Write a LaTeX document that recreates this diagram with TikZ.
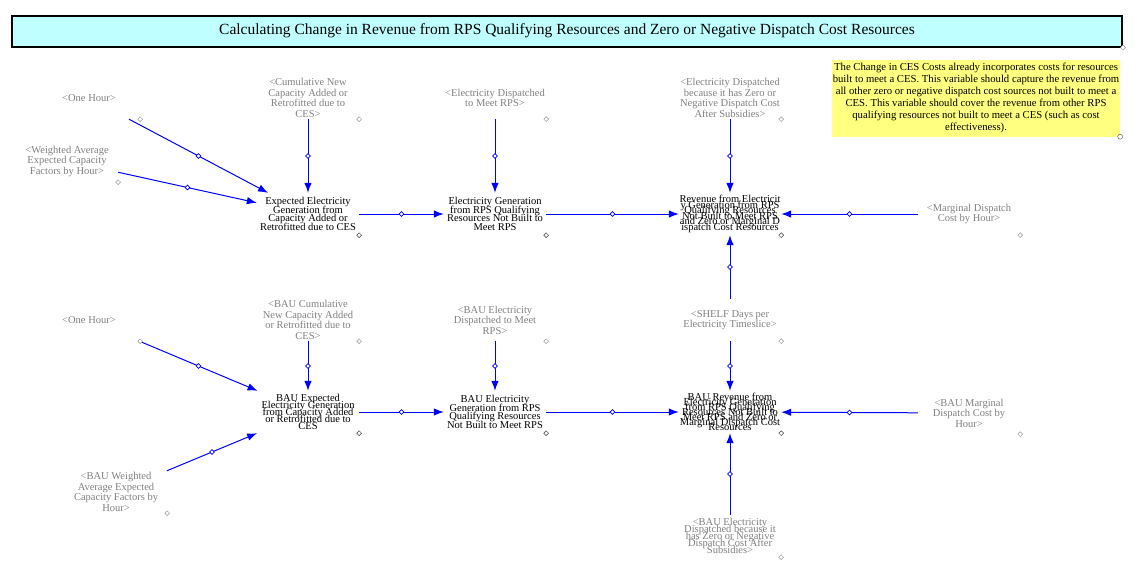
\documentclass[tikz,border=0pt]{standalone}
\usepackage{fontspec}
\setmainfont{Liberation Serif}
\usetikzlibrary{arrows.meta,positioning,shapes.geometric,calc}
\definecolor{titlecyan}{HTML}{C0FFFF}
\definecolor{noteyellow}{HTML}{FFFF80}
\definecolor{linkblue}{HTML}{0000FF}
\definecolor{shadowgray}{HTML}{808080}

\begin{document}
\begin{tikzpicture}[x=1pt,y=-1pt,
        var/.style={minimum width=102pt, minimum height=42pt, inner sep=0pt, align=center,
                    font={\fontsize{10.5}{8.7}\selectfont\lineskiplimit=-20pt}},
        squeezed/.style={var, font={\fontsize{10.5}{#1}\selectfont\lineskiplimit=-20pt}},
        shadowvar/.style={var, text=shadowgray, font={\fontsize{10.5}{10.5}\selectfont}},
        link/.style={draw=linkblue, line width=1pt, -{Latex[length=10pt,width=7.5pt]}},
        mid/.style={diamond, draw=linkblue, fill=white, inner sep=0pt, minimum size=5pt, line width=0.6pt},
        handle/.style={diamond, draw=black!60, fill=white, inner sep=0pt, minimum size=5pt, line width=0.5pt}
      ]
      \useasboundingbox (0,0) rectangle (1144,587);
      \node[draw, line width=2pt, fill=titlecyan, minimum width=1110pt, minimum height=31pt,
            font={\fontsize{15.5}{17}\selectfont}] (title) at (567,31)
        {Calculating Change in Revenue from RPS Qualifying Resources and Zero or Negative Dispatch Cost Resources};
      \node[fill=noteyellow, minimum width=288pt, minimum height=77pt, inner sep=0pt, align=center,
            font={\fontsize{10.7}{12}\selectfont}] (note) at (976,98)
        {The Change in CES Costs already incorporates costs for resources\\built to meet a CES. This variable should capture the revenue from\\all other zero or negative dispatch cost sources not built to meet a\\CES. This variable should cover the revenue from other RPS\\qualifying resources not built to meet a CES (such as cost\\effectiveness).};

      \node[shadowvar] (ohA) at (89,98) {<One Hour>};
      \node[shadowvar] (wacf) at (67,161) {<Weighted Average\\Expected Capacity\\Factors by Hour>};
      \node[shadowvar] (cumA) at (308,98) {<Cumulative New\\Capacity Added or\\Retrofitted due to\\CES>};
      \node[var] (eeg) at (308,214) {Expected Electricity\\Generation from\\Capacity Added or\\Retrofitted due to CES};
      \node[shadowvar] (edrps) at (495,98) {<Electricity Dispatched\\to Meet RPS>};
      \node[var] (egrps) at (495,214) {Electricity Generation\\from RPS Qualifying\\Resources Not Built to\\Meet RPS};
      \node[shadowvar] (edzero) at (730,98) {<Electricity Dispatched\\because it has Zero or\\Negative Dispatch Cost\\After Subsidies>};
      \node[squeezed=5.6] (rev) at (730,214) {Revenue from Electricit\\y Generation from RPS\\Qualifying Resources\\Not Built to Meet RPS\\and Zero or Marginal D\\ispatch Cost Resources};
      \node[shadowvar] (mdc) at (969,214) {<Marginal Dispatch\\Cost by Hour>};
      \node[shadowvar] (shelf) at (730,320) {<SHELF Days per\\Electricity Timeslice>};

      \node[shadowvar] (ohB) at (89,320) {<One Hour>};
      \node[shadowvar] (bcum) at (308,320) {<BAU Cumulative\\New Capacity Added\\or Retrofitted due to\\CES>};
      \node[squeezed=7] (beeg) at (308,412) {BAU Expected\\Electricity Generation\\from Capacity Added\\or Retrofitted due to\\CES};
      \node[shadowvar] (bwacf) at (116,492) {<BAU Weighted\\Average Expected\\Capacity Factors by\\Hour>};
      \node[shadowvar] (bedrps) at (495,320) {<BAU Electricity\\Dispatched to Meet\\RPS>};
      \node[var] (begrps) at (495,412) {BAU Electricity\\Generation from RPS\\Qualifying Resources\\Not Built to Meet RPS};
      \node[squeezed=4.9] (brev) at (730,412) {BAU Revenue from\\Electricity Generation\\from RPS Qualifying\\Resources Not Built to\\Meet RPS and Zero or\\Marginal Dispatch Cost\\Resources};
      \node[shadowvar] (bmdc) at (969,413) {<BAU Marginal\\Dispatch Cost by\\Hour>};
      \node[squeezed=7.2, text=shadowgray] (bedzero) at (730,536) {<BAU Electricity\\Dispatched because it\\has Zero or Negative\\Dispatch Cost After\\Subsidies>};

      \foreach \src/\dst in {ohA/eeg, wacf/eeg, cumA/eeg, eeg/egrps, edrps/egrps, egrps/rev,
                             edzero/rev, mdc/rev, shelf/rev, ohB/beeg, bwacf/beeg, bcum/beeg,
                             beeg/begrps, bedrps/begrps, begrps/brev, shelf/brev, bmdc/brev, bedzero/brev}
        \draw[link] (\src) -- node[mid] {} (\dst);

      \foreach \n in {ohA, wacf, cumA, edrps, edzero, mdc, shelf, ohB, bcum, bwacf, bedrps, bmdc, bedzero}
        \node[handle, draw=black!40] at (\n.south east) {};
      \foreach \n in {eeg, egrps, rev, beeg, begrps, brev}
        \node[handle, draw=black!75] at (\n.south east) {};
      \node[handle, draw=black!40] at (title.south east) {};
      \node[circle, draw=black!70, fill=white, inner sep=0pt, minimum size=5pt] at (note.south east) {};
    \end{tikzpicture}
\end{document}
